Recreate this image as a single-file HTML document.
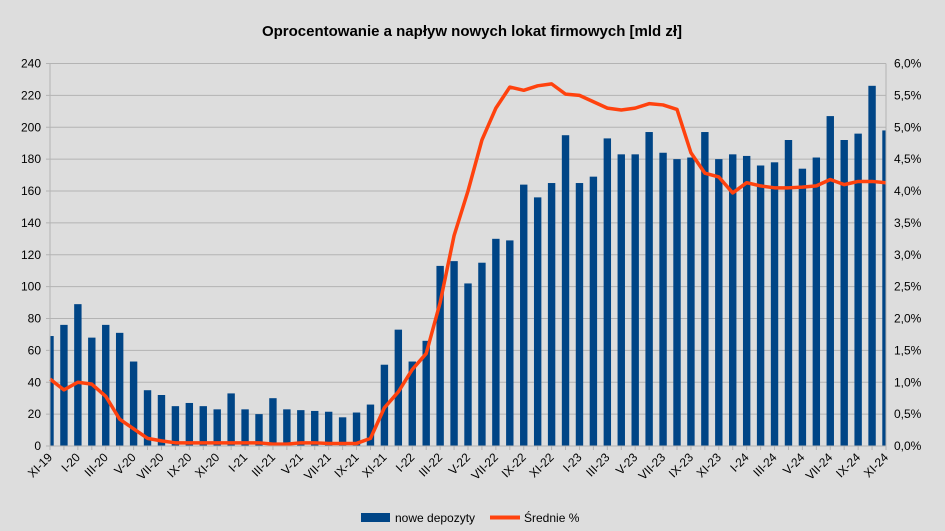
<!DOCTYPE html>
<html><head><meta charset="utf-8"><style>
html,body{margin:0;padding:0;background:#dddddd;}
svg{display:block;font-family:"Liberation Sans",sans-serif;}
</style></head><body>
<svg id="chart" width="945" height="531">
<rect width="945" height="531" fill="#dddddd"/>
<text x="472" y="36" text-anchor="middle" font-size="15" font-weight="bold" fill="#000">Oprocentowanie a napływ nowych lokat firmowych [mld zł]</text>
<g id="grid"></g><g id="bars"></g><g id="line"></g><g id="axes"></g>
<g>
<rect x="361" y="513" width="29" height="9" fill="#004586"/>
<text x="395" y="522" font-size="12">nowe depozyty</text>
<line x1="490" y1="517.5" x2="520" y2="517.5" stroke="#ff420e" stroke-width="4"/>
<text x="524" y="522" font-size="12">Średnie %</text>
</g>
</svg>
<script>
const categories=(function(){const r=["I","II","III","IV","V","VI","VII","VIII","IX","X","XI","XII"];const o=[];let m=10,y=19;for(let i=0;i<61;i++){o.push(r[m]+"-"+y);m++;if(m>11){m=0;y++;}}return o;})();
const deposits=[69,76,89,68,76,71,53,35,32,25,27,25,23,33,23,20,30,23,22.5,22,21.5,18,21,26,51,73,53,66,113,116,102,115,130,129,164,156,165,195,165,169,193,183,183,197,184,180,181,197,180,183,182,176,178,192,174,181,207,192,196,226,198];
const rates=[1.05,0.88,1.0,0.97,0.78,0.42,0.27,0.12,0.08,0.05,0.05,0.05,0.05,0.05,0.05,0.05,0.03,0.03,0.05,0.05,0.04,0.04,0.04,0.12,0.6,0.85,1.2,1.45,2.25,3.3,4.0,4.8,5.3,5.63,5.58,5.65,5.68,5.52,5.5,5.4,5.3,5.27,5.3,5.37,5.35,5.28,4.6,4.28,4.22,3.97,4.13,4.08,4.05,4.05,4.06,4.08,4.18,4.1,4.15,4.15,4.13];
const leftTicks=[0,20,40,60,80,100,120,140,160,180,200,220,240];
const rightTicks=[0,0.5,1,1.5,2,2.5,3,3.5,4,4.5,5,5.5,6];
const X0=50,X1=886,Y0=446,Y1=63.5,NS="http://www.w3.org/2000/svg";
const xs=i=>X0+i*(X1-X0)/(categories.length-1);
const yl=v=>Y0-v/240*(Y0-Y1);
const yr=v=>Y0-v/6*(Y0-Y1);
function mk(t,a,p){const e=document.createElementNS(NS,t);for(const k in a)e.setAttribute(k,a[k]);p.appendChild(e);return e;}
const g=document.getElementById('grid'),b=document.getElementById('bars'),l=document.getElementById('line'),ax=document.getElementById('axes');
const svg=document.getElementById('chart');
const defs=mk('defs',{},svg);const cp=mk('clipPath',{id:'pc'},defs);mk('rect',{x:X0,y:Y1,width:X1-X0,height:Y0-Y1},cp);
b.setAttribute('clip-path','url(#pc)');
leftTicks.forEach((v,i)=>{
 const ln=mk('line',{x1:X0-4,x2:X1,y1:yl(v),y2:yl(v),stroke:'#b3b3b3','stroke-width':1},g);
 
 
 const t=mk('text',{x:X0-9,y:yl(v)+4,'text-anchor':'end','font-size':12},ax);t.textContent=v;
 
 
});
rightTicks.forEach(v=>{
 const t=mk('text',{x:X1+8,y:yr(v)+4,'font-size':12},ax);t.textContent=v.toFixed(1).replace('.',',')+'%';
 
 
});
deposits.forEach((v,i)=>{
 const r=mk('rect',{x:xs(i)-3.7,y:yl(v),width:7.4,height:Y0-yl(v),fill:'#004586'},b);
 
 
});
const pl=mk('polyline',{points:rates.map((v,i)=>xs(i)+','+yr(v)).join(' '),fill:'none',stroke:'#ff420e','stroke-width':3.5,'stroke-linejoin':'round'},l);


const a1=mk('line',{x1:X0,x2:X0,y1:Y1,y2:Y0,stroke:'#b3b3b3'},ax);


const a2=mk('line',{x1:X1,x2:X1,y1:Y1,y2:Y0+4,stroke:'#b3b3b3'},ax);


const a3=mk('line',{x1:X0,x2:X1,y1:Y0,y2:Y0,stroke:'#b3b3b3'},ax);


categories.forEach((c,i)=>{
 mk('line',{x1:xs(i),x2:xs(i),y1:Y0,y2:Y0+4,stroke:'#b3b3b3'},ax);
 if(i%2===0){
  const x=xs(i)+3,y=Y0+12;
  const t=mk('text',{x:x,y:y,'text-anchor':'end','font-size':12,transform:'rotate(-45 '+x+' '+y+')'},ax);t.textContent=c;
  
  
 }
});
</script>
</body></html>
